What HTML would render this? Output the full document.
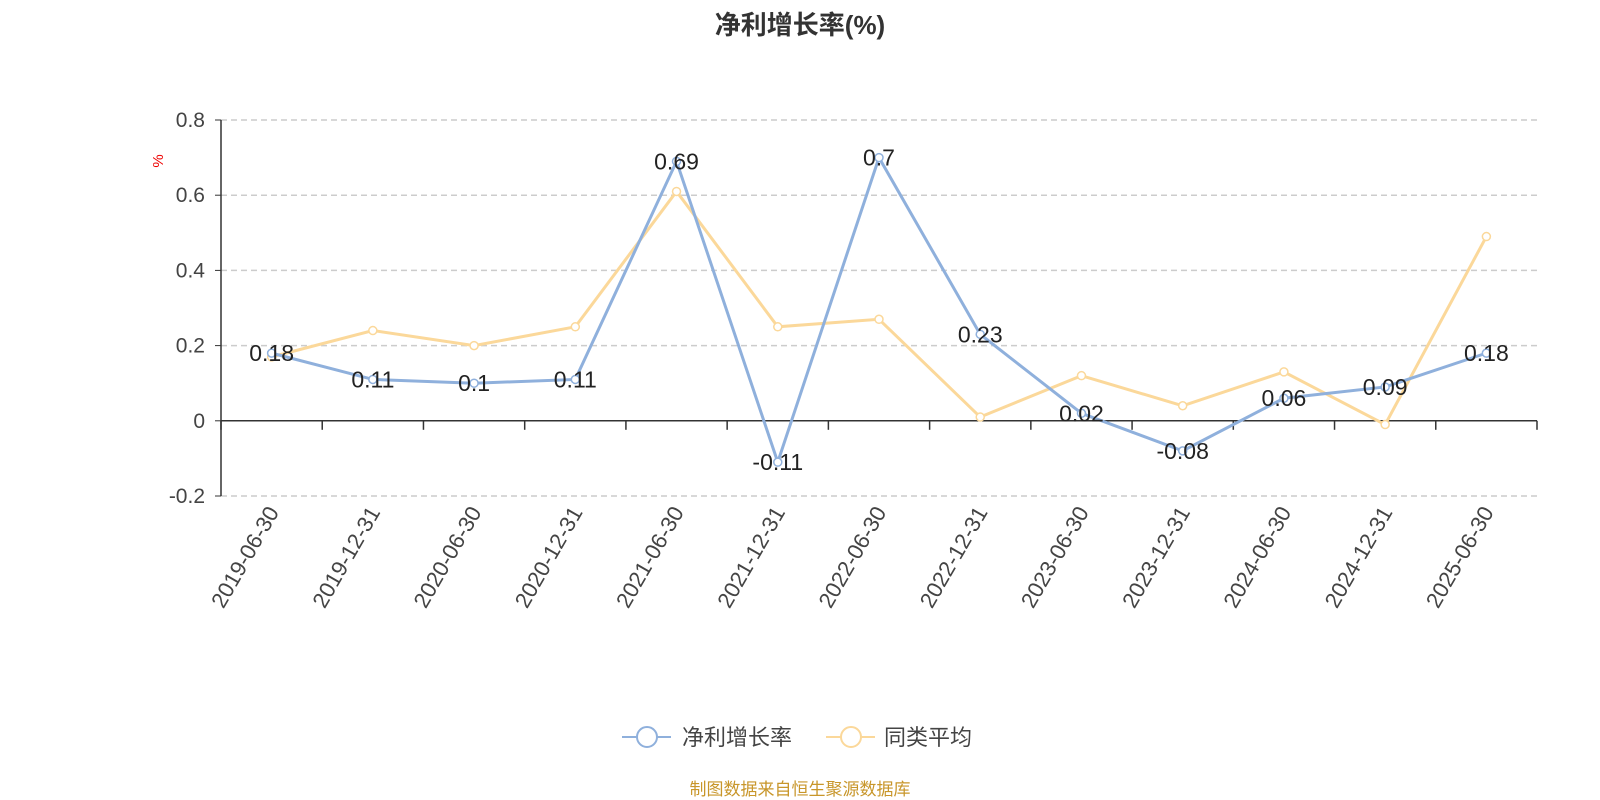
<!DOCTYPE html>
<html><head><meta charset="utf-8"><style>
html,body{margin:0;padding:0;background:#fff;width:1600px;height:800px;overflow:hidden}
text{font-family:"Liberation Sans","Noto Sans CJK SC",sans-serif}
</style></head><body>
<svg id="chart" width="1600" height="800" xmlns="http://www.w3.org/2000/svg">
<text x="800" y="34" text-anchor="middle" font-size="26" font-weight="bold" fill="#333">净利增长率(%)</text>
<text x="163" y="161" font-size="15" fill="#e00" transform="rotate(-90 163 161)" text-anchor="middle">%</text>
<g id="grid"></g><g id="axes"></g><g id="series"></g><g id="labels"></g>
<g>
<g>
<line x1="622" y1="737" x2="671" y2="737" stroke="#8fb0dc" stroke-width="2"/>
<circle cx="647" cy="737" r="10" fill="#fff" stroke="#8fb0dc" stroke-width="2"/>
<text x="682" y="745" font-size="22" fill="#444">净利增长率</text></g>
<g>
<line x1="826" y1="737" x2="875" y2="737" stroke="#fbd89a" stroke-width="2"/>
<circle cx="851" cy="737" r="10" fill="#fff" stroke="#fbd89a" stroke-width="2"/>
<text x="884" y="745" font-size="22" fill="#444">同类平均</text></g>
</g>
<text x="800" y="795" text-anchor="middle" font-size="17" fill="#c8962a">制图数据来自恒生聚源数据库</text>
</svg>
<script>
const categories=["2019-06-30","2019-12-31","2020-06-30","2020-12-31","2021-06-30","2021-12-31","2022-06-30","2022-12-31","2023-06-30","2023-12-31","2024-06-30","2024-12-31","2025-06-30"];
const netProfitGrowth=[0.18,0.11,0.1,0.11,0.69,-0.11,0.7,0.23,0.02,-0.08,0.06,0.09,0.18];
const peerAverage=[0.17,0.24,0.2,0.25,0.61,0.25,0.27,0.01,0.12,0.04,0.13,-0.01,0.49];
const yTicks=[-0.2,0,0.2,0.4,0.6,0.8];
const NS="http://www.w3.org/2000/svg";
const L=221,R=1537,T=120,B=496,yMin=-0.2,yMax=0.8;
const bw=(R-L)/categories.length;
const x=i=>L+bw*(i+0.5);
const y=v=>B-(v-yMin)/(yMax-yMin)*(B-T);
function mk(tag,attrs,parent){const e=document.createElementNS(NS,tag);for(const k in attrs)e.setAttribute(k,attrs[k]);parent.appendChild(e);return e;}
const grid=document.getElementById('grid'),axes=document.getElementById('axes'),series=document.getElementById('series'),labels=document.getElementById('labels');
yTicks.forEach(t=>{
 if(t!==0){const g=mk('line',{x1:L,x2:R,y1:y(t),y2:y(t),stroke:'#ccc','stroke-dasharray':'6,4','stroke-width':1.5},grid);
 
 }
 const tx=mk('text',{x:L-16,y:y(t)+7,'text-anchor':'end','font-size':21,fill:'#444'},axes);tx.textContent=String(t);
 
 
 mk('line',{x1:L-6,x2:L,y1:y(t),y2:y(t),stroke:'#333'},axes);
});
const ya=mk('line',{x1:L,x2:L,y1:T,y2:B,stroke:'#333','stroke-width':1.5},axes);


const xa=mk('line',{x1:L,x2:R,y1:y(0),y2:y(0),stroke:'#333','stroke-width':1.5},axes);


for(let i=0;i<=categories.length;i++){mk('line',{x1:L+bw*i,x2:L+bw*i,y1:y(0),y2:y(0)+9,stroke:'#333','stroke-width':1.5},axes);}
categories.forEach((c,i)=>{
 const tx=mk('text',{x:x(i)+8,y:B+16,'text-anchor':'end','font-size':22,fill:'#444',transform:`rotate(-60 ${x(i)+8} ${B+16})`},axes);
 tx.textContent=c;
 
 
});
function drawSeries(vals,color,name){
 const p=mk('polyline',{points:vals.map((v,i)=>x(i)+','+y(v)).join(' '),fill:'none',stroke:color,'stroke-width':3},series);
 
 
 vals.forEach((v,i)=>{const c=mk('circle',{cx:x(i),cy:y(v),r:4,fill:'#fff',stroke:color,'stroke-width':1.5},series);
 
 });
}
drawSeries(peerAverage,'#fbd89a','peer-average');
drawSeries(netProfitGrowth,'#8fb0dc','net-profit-growth');
netProfitGrowth.forEach((v,i)=>{
 const tx=mk('text',{x:x(i),y:y(v)+8,'text-anchor':'middle','font-size':23,fill:'#222'},labels);
 tx.textContent=String(v);
 
 
});
</script>
</body></html>
